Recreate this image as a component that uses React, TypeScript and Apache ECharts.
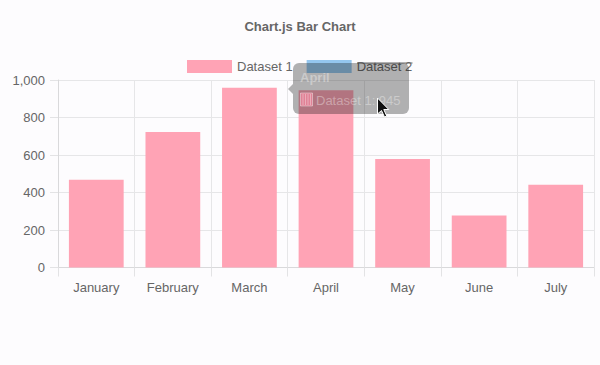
import React, { useEffect, useRef } from "react";
import * as echarts from "echarts";

const categories = ["January", "February", "March", "April", "May", "June", "July"];
const dataset1 = [468, 723, 959, 945, 579, 278, 442];
const dataset2: number[] = [];
const yTicks = { min: 0, max: 1000, interval: 200 };
const titleText = "Chart.js Bar Chart";
const tooltipTitle = "April";
const tooltipLine = "Dataset 1: 945";

const FONT = '"Liberation Sans", Arial, Helvetica, sans-serif';

echarts.graphic.registerShape(
  "cursorArrow",
  echarts.graphic.extendPath("M0,0 L0,16 L4,12.5 L7,19 L9.2,18 L6.3,11.5 L11.3,11.5 Z", {})
);

export default function App() {
  const ref = useRef<HTMLDivElement>(null);
  useEffect(() => {
    if (!ref.current) return;
    const chart = echarts.init(ref.current, undefined, { renderer: "svg" });
    const pink = "#ffa3b5";
    const blue = "#94c6ee";
    const tipFill = "rgba(20,20,20,0.33)";
    chart.setOption({
      animation: false,
      backgroundColor: "#fdfcfe",
      textStyle: { fontFamily: FONT },
      title: {
        text: titleText,
        left: "center",
        top: 14.5,
        textStyle: { fontSize: 13, fontWeight: "bold", color: "#666", fontFamily: FONT },
      },
      legend: {
        top: 55,
        left: 182,
        itemWidth: 45,
        itemHeight: 13,
        itemGap: 14,
        itemTextGap: 7,
        icon: "rect",
        data: ["Dataset 1", "Dataset 2"],
        textStyle: { fontSize: 13, color: "#666", fontFamily: FONT },
      },
      grid: { left: 58, right: 6, top: 80, bottom: 97.5 },
      xAxis: {
        type: "category",
        data: categories,
        boundaryGap: true,
        axisLine: { show: true, lineStyle: { color: "#d9d9db" } },
        axisTick: { show: true, length: 9, lineStyle: { color: "#e3e3e5" } },
        splitLine: { show: true, lineStyle: { color: "#e6e6e8" } },
        axisLabel: { margin: 13, fontSize: 13, color: "#666", fontFamily: FONT },
      },
      yAxis: {
        type: "value",
        min: yTicks.min,
        max: yTicks.max,
        interval: yTicks.interval,
        axisLine: { show: true, lineStyle: { color: "#d9d9db" } },
        axisTick: { show: true, length: 8, lineStyle: { color: "#e3e3e5" } },
        splitLine: { show: true, lineStyle: { color: "#e6e6e8" } },
        axisLabel: {
          margin: 13,
          fontSize: 13,
          color: "#666",
          fontFamily: FONT,
          formatter: (v: number) => v.toLocaleString("en-US"),
        },
      },
      series: [
        {
          name: "Dataset 1",
          type: "bar",
          stack: "s",
          data: dataset1,
          barCategoryGap: "28.5%",
          itemStyle: { color: pink },
        },
        {
          name: "Dataset 2",
          type: "bar",
          stack: "s",
          data: dataset2,
          itemStyle: { color: blue },
        },
      ],
      graphic: [
        // strike-through of hidden Dataset 2 legend label
        {
          type: "line",
          z: 100,
          shape: { x1: 357, y1: 63, x2: 412.5, y2: 63 },
          style: { stroke: "#666", lineWidth: 1.2 },
        },
        // tooltip
        {
          type: "polygon",
          z: 100,
          shape: { points: [[288, 89], [293, 84], [293, 94]] },
          style: { fill: tipFill },
        },
        {
          type: "rect",
          z: 100,
          shape: { x: 293, y: 63, width: 116, height: 51, r: 6 },
          style: { fill: tipFill },
        },
        {
          type: "text",
          z: 101,
          x: 300,
          y: 77,
          style: {
            text: tooltipTitle,
            fontSize: 13,
            fontWeight: "bold",
            fontFamily: FONT,
            fill: "rgba(255,255,255,0.35)",
            verticalAlign: "middle",
          },
        },
        {
          type: "rect",
          z: 101,
          shape: { x: 300.5, y: 93, width: 12, height: 13 },
          style: { fill: "rgba(255,140,165,0.6)", stroke: "rgba(255,255,255,0.4)", lineWidth: 1 },
        },
        ...[303, 305.5, 308, 310.5].map((x) => ({
          type: "line",
          z: 102,
          shape: { x1: x, y1: 94, x2: x, y2: 105 },
          style: { stroke: "rgba(255,255,255,0.35)", lineWidth: 1 },
        })),
        {
          type: "text",
          z: 101,
          x: 316,
          y: 100,
          style: {
            text: tooltipLine,
            fontSize: 13,
            fontFamily: FONT,
            fill: "rgba(255,255,255,0.35)",
            verticalAlign: "middle",
          },
        },
        {
          type: "cursorArrow",
          z: 110,
          x: 377.5,
          y: 98,
          style: { fill: "#111", stroke: "#fff", lineWidth: 1 },
        },
      ],
    });
    return () => chart.dispose();
  }, []);
  return (
    <div
      ref={ref}
      style={{ position: "fixed", left: 0, top: 0, width: 600, height: 365 }}
    />
  );
}
